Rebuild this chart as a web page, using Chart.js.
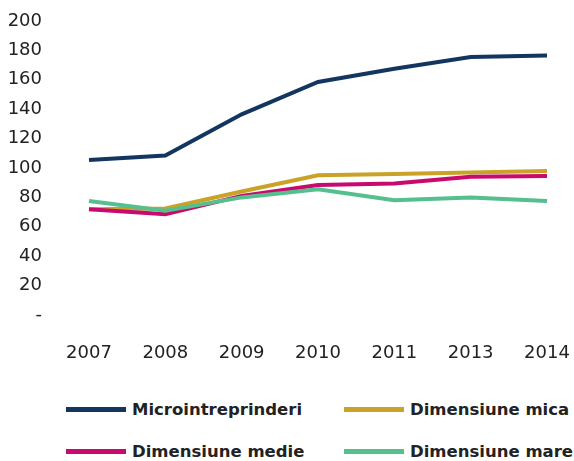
<!DOCTYPE html>
<html>
<head>
<meta charset="utf-8">
<script src="https://cdn.jsdelivr.net/npm/chart.js@4"></script>
<style>
    body { margin: 0; background: #fff; font-family: "DejaVu Sans", sans-serif; }
    #wrap { position: relative; width: 574px; height: 375px; }
    #legend { position: relative; width: 574px; height: 86px; }
    .item { position: absolute; display: flex; align-items: center; font-weight: bold; font-size: 16.5px; color: #222; }
    .swatch { width: 60px; height: 5px; margin-right: 6px; }
</style>
</head>
<body>
<div id="wrap"><canvas id="myChart"></canvas></div>
<div id="legend"></div>
<script>
// Ani
const years = ["2007", "2008", "2009", "2010", "2011", "2013", "2014"];

// Serii
const micro = [105.5, 108.5, 136.5, 158.5, 167.5, 175.5, 176.5];
const mica = [72, 72.5, 84, 95, 96, 97, 98];
const medie = [72, 68.5, 81, 88.5, 89.5, 94, 94.5];
const mare = [77.5, 71, 80, 85.5, 78, 80, 77.5];

const seriesNames = ["Microintreprinderi", "Dimensiune mica", "Dimensiune medie", "Dimensiune mare"];
const seriesColors = ["#12365f", "#c9a227", "#c80a6f", "#55bf8e"];

const yMin = 0;
const yMax = 200;
const yStep = 20;

const chartData = {
    labels: years,
    datasets: [micro, mica, medie, mare].map((values, i) => ({
        label: seriesNames[i],
        data: values,
        borderColor: seriesColors[i],
        backgroundColor: seriesColors[i],
        borderWidth: 4,
        pointRadius: 0,
        tension: 0,
        order: 4 - i
    }))
};

const tickFont = { family: "DejaVu Sans", size: 18 };

new Chart(document.getElementById('myChart'), {
    type: 'line',
    data: chartData,
    options: {
        responsive: true,
        maintainAspectRatio: false,
        animation: false,
        layout: { padding: { top: 21, right: 27, left: 0, bottom: 0 } },
        plugins: {
            legend: { display: false },
            tooltip: { enabled: false }
        },
        scales: {
            x: {
                offset: false,
                grid: { display: false },
                border: { display: false },
                ticks: { color: '#222', font: tickFont, padding: 20, maxRotation: 0 },
                afterFit: scale => {
                    scale.height = 60;
                    scale.paddingLeft = 0;
                    scale.paddingRight = 0;
                }
            },
            y: {
                min: yMin,
                max: yMax,
                grid: { display: false },
                border: { display: false },
                ticks: {
                    stepSize: yStep,
                    color: '#222',
                    font: tickFont,
                    padding: 39,
                    callback: v => v === 0 ? '-' : v
                },
                afterFit: scale => {
                    scale.width = 89;
                    scale.paddingTop = 0;
                    scale.paddingBottom = 0;
                }
            }
        }
    }
});

// Legenda in doua coloane
const legend = document.getElementById('legend');
const legendPos = [[66, 36], [344, 36], [66, 78], [344, 78]];
seriesNames.forEach((name, i) => {
    const item = document.createElement('div');
    item.className = 'item';
    item.style.left = legendPos[i][0] + 'px';
    item.style.top = (legendPos[i][1] - 11) + 'px';
    const sw = document.createElement('span');
    sw.className = 'swatch';
    sw.style.background = seriesColors[i];
    const txt = document.createElement('span');
    txt.textContent = name;
    item.appendChild(sw);
    item.appendChild(txt);
    legend.appendChild(item);
});
</script>
</body>
</html>
